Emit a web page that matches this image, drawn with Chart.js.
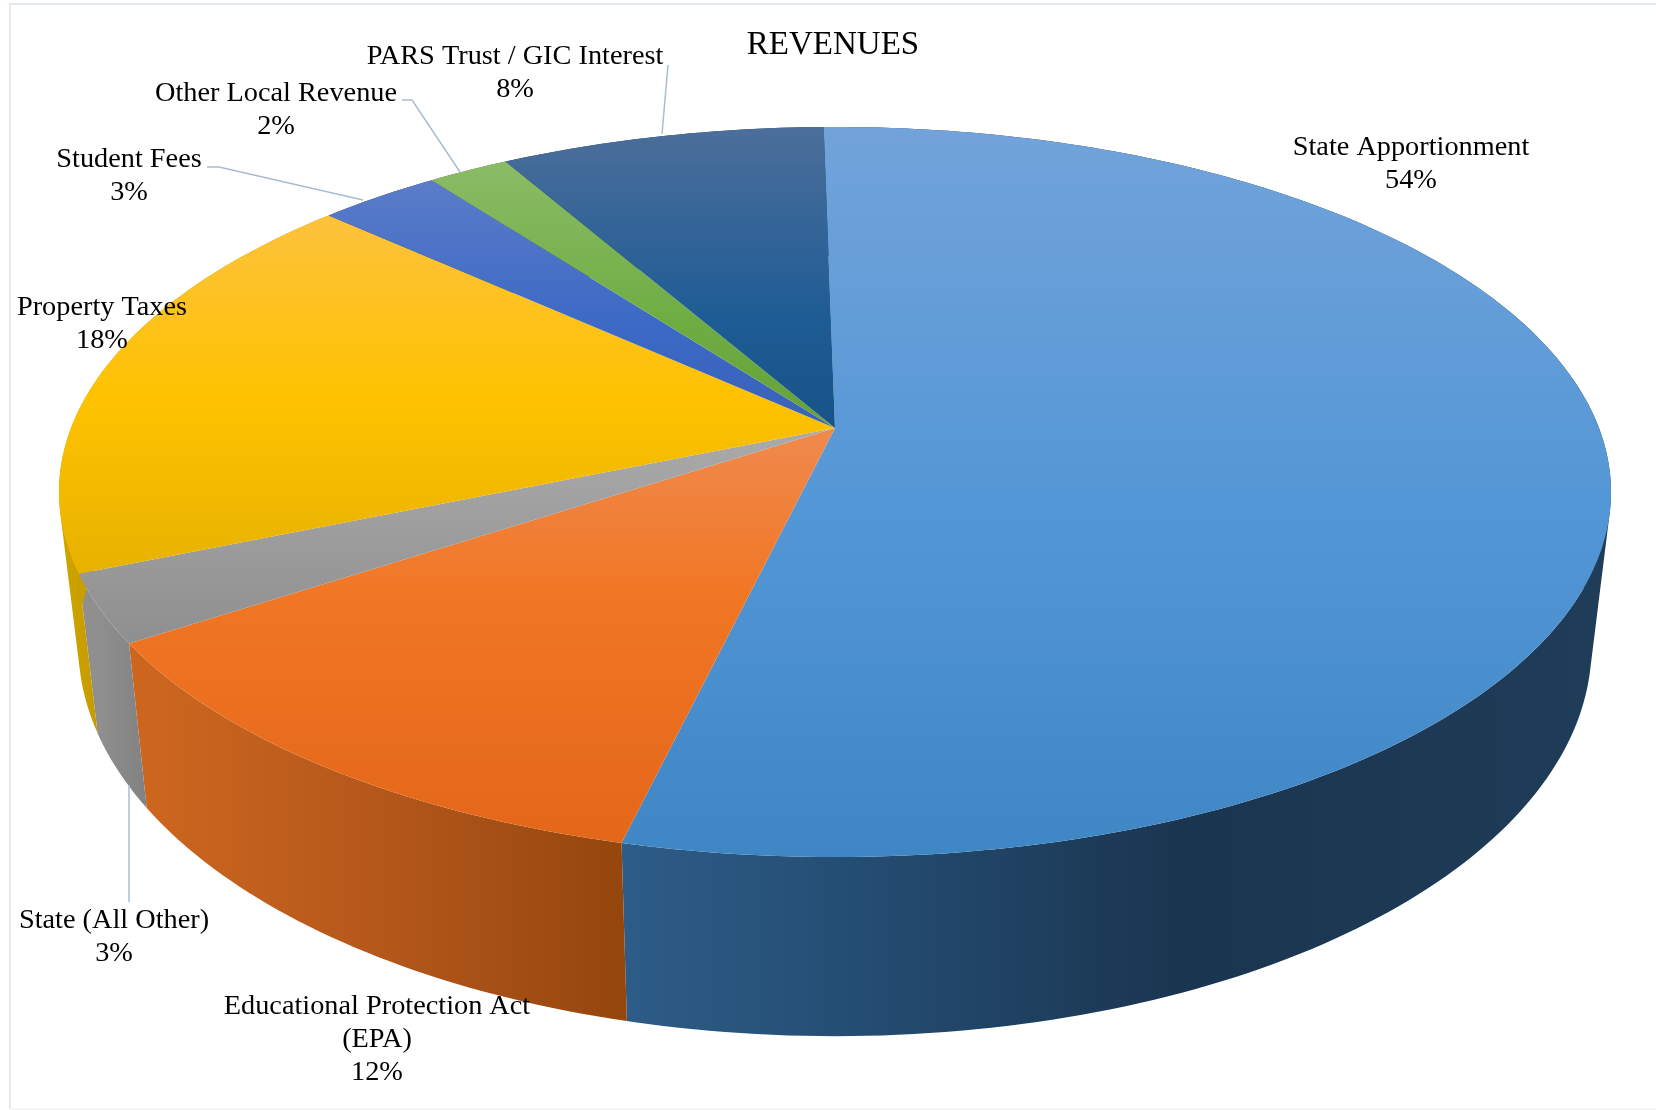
<!DOCTYPE html>
<html>
<head>
<meta charset="utf-8">
<title>Revenues</title>
<script src="https://cdn.jsdelivr.net/npm/chart.js@4"></script>
<style>
    html, body { margin: 0; padding: 0; background: #fff; }
    canvas { display: block; }
</style>
</head>
<body>
<canvas id="revenueChart" width="1656" height="1110"></canvas>
<script>
// Revenue shares, clockwise from 12 o'clock
const categories = [
    'State Apportionment',
    ['Educational Protection Act', '(EPA)'],
    'State (All Other)',
    'Property Taxes',
    'Student Fees',
    'Other Local Revenue',
    'PARS Trust / GIC Interest'
];
const shares = [54, 12, 3, 18, 3, 2, 8];
const baseColors = ['#4a8fd0', '#ed7d31', '#a5a5a5', '#ffc000', '#4472c4', '#70ad47', '#255e91'];

// top face gradient per slice: [y, colour]
const faceStops = [
    [[127, '#72a3da'], [500, '#5497d6'], [857, '#3f86c5']],
    [[428, '#ef8a4e'], [600, '#f17623'], [850, '#e3661a']],
    [[440, '#a9a9a9'], [650, '#8e8e8e']],
    [[225, '#fdc23a'], [400, '#fec200'], [590, '#e5b000']],
    [[180, '#5b7cc9'], [330, '#3b69c5'], [428, '#3a62b8']],
    [[165, '#8bbb66'], [320, '#6fad43'], [428, '#66a03a']],
    [[127, '#4c6e9a'], [320, '#1e5c95'], [428, '#185288']]
];

// side wall gradient per slice: [x, colour]
const wallStops = [
    [[626, '#2d5c88'], [900, '#234a6e'], [1180, '#1a3550'], [1600, '#1f3c58']],
    [[154, '#cc661f'], [400, '#b2561a'], [626, '#94460d']],
    [[100, '#8f8f8f'], [154, '#7f7f7f']],
    [[60, '#cfa500'], [103, '#c49a00']],
    [[0, '#2f4f88'], [1656, '#2f4f88']],
    [[0, '#4f7a32'], [1656, '#4f7a32']],
    [[0, '#1b4468'], [1656, '#1b4468']]
];

// label anchor per slice: centre x, first baseline y
const labelAnchors = [
    [1411, 155], [377, 1014], [114, 928], [102, 315], [129, 167], [276, 101], [515, 64]
];
const leaderLines = [
    [[668, 65], [662, 134]],
    [[402, 100], [412, 100], [460, 172]],
    [[207, 167], [219, 167], [363, 200]],
    [[129, 785], [129, 902]]
];

// perspective of the disc: apex position and the projective terms
const view = { cx: 835, cy: 428, a: 764, b: 353.8, p: 0.1753 };

function topPoint(angle) {
    const t = angle + Math.PI / 2;
    const u = Math.sin(t), v = Math.cos(t);
    const d = 1 + view.p * v;
    return [view.cx + view.a * u / d, view.cy - view.b * v / d];
}

// rim point at the bottom edge of the disc
function lowerPoint(pt) {
    return [view.cx + 0.975 * (pt[0] - view.cx), 1.069 * pt[1] + 120];
}

function makeGradient(ctx, stops, horizontal) {
    const first = stops[0][0], last = stops[stops.length - 1][0];
    const g = horizontal
        ? ctx.createLinearGradient(first, 0, last, 0)
        : ctx.createLinearGradient(0, first, 0, last);
    stops.forEach(s => g.addColorStop((s[0] - first) / (last - first), s[1]));
    return g;
}

function arcAngles(arc) {
    const step = Math.PI / 180;
    const list = [];
    for (let a = arc.startAngle; a < arc.endAngle; a += step) list.push(a);
    list.push(arc.endAngle);
    return list;
}

function drawWall(ctx, arc, index) {
    const angles = arcAngles(arc);
    ctx.beginPath();
    for (let i = 0; i < angles.length - 1; i++) {
        const p1 = topPoint(angles[i]), p2 = topPoint(angles[i + 1]);
        let quad = [p1, p2, lowerPoint(p2), lowerPoint(p1)];
        // keep winding the same so the union fills without holes
        let area = 0;
        quad.forEach((q, k) => {
            const n = quad[(k + 1) % 4];
            area += q[0] * n[1] - n[0] * q[1];
        });
        if (area < 0) quad = quad.reverse();
        ctx.moveTo(quad[0][0], quad[0][1]);
        for (let k = 1; k < 4; k++) ctx.lineTo(quad[k][0], quad[k][1]);
        ctx.closePath();
    }
    ctx.fillStyle = makeGradient(ctx, wallStops[index], true);
    ctx.fill('nonzero');
}

function drawFace(ctx, arc, index) {
    ctx.beginPath();
    ctx.moveTo(view.cx, view.cy);
    arcAngles(arc).forEach(a => {
        const pt = topPoint(a);
        ctx.lineTo(pt[0], pt[1]);
    });
    ctx.closePath();
    ctx.fillStyle = makeGradient(ctx, faceStops[index], false);
    ctx.fill();
}

const pie3d = {
    id: 'pie3d',
    beforeDraw(chart) {
        const ctx = chart.ctx;
        ctx.save();
        // frame: top and left edges, the bottom one is much fainter
        ctx.lineWidth = 2;
        ctx.strokeStyle = '#e4e9f1';
        ctx.beginPath();
        ctx.moveTo(1656, 4);
        ctx.lineTo(10, 4);
        ctx.lineTo(10, 1109);
        ctx.stroke();
        ctx.strokeStyle = '#f5f5f6';
        ctx.beginPath();
        ctx.moveTo(10, 1109);
        ctx.lineTo(1656, 1109);
        ctx.stroke();
        ctx.restore();
    },
    // the arcs come from the pie controller, only their painting is replaced
    beforeDatasetDraw(chart, args) {
        const ctx = chart.ctx;
        const arcs = chart.getDatasetMeta(args.index).data;
        ctx.save();
        arcs.forEach((arc, i) => drawWall(ctx, arc, i));
        arcs.forEach((arc, i) => drawFace(ctx, arc, i));
        ctx.restore();
        return false;
    },
    afterDatasetsDraw(chart) {
        const ctx = chart.ctx;
        ctx.save();

        ctx.strokeStyle = '#a9bcd3';
        ctx.lineWidth = 1.5;
        leaderLines.forEach(line => {
            ctx.beginPath();
            line.forEach((pt, i) => i ? ctx.lineTo(pt[0], pt[1]) : ctx.moveTo(pt[0], pt[1]));
            ctx.stroke();
        });

        ctx.fillStyle = '#000';
        ctx.font = '28.3px "Liberation Serif"';
        ctx.textAlign = 'center';
        ctx.textBaseline = 'alphabetic';
        categories.forEach((name, i) => {
            const lines = [].concat(name, shares[i] + '%');
            lines.forEach((text, k) => {
                ctx.fillText(text, labelAnchors[i][0], labelAnchors[i][1] + k * 33);
            });
        });
        ctx.restore();
    }
};

new Chart(document.getElementById('revenueChart'), {
    type: 'pie',
    data: {
        labels: categories,
        datasets: [{ data: shares, backgroundColor: baseColors, borderWidth: 0 }]
    },
    options: {
        responsive: false,
        animation: false,
        rotation: -1,
        layout: { padding: { left: 10 } },
        plugins: {
            legend: { display: false },
            tooltip: { enabled: false },
            title: {
                display: true,
                text: 'REVENUES',
                color: '#000',
                fullSize: false,
                font: { family: '"Liberation Serif"', size: 33, weight: 'normal' },
                padding: { top: 26, bottom: 10 }
            }
        }
    },
    plugins: [pie3d]
});
</script>
</body>
</html>
